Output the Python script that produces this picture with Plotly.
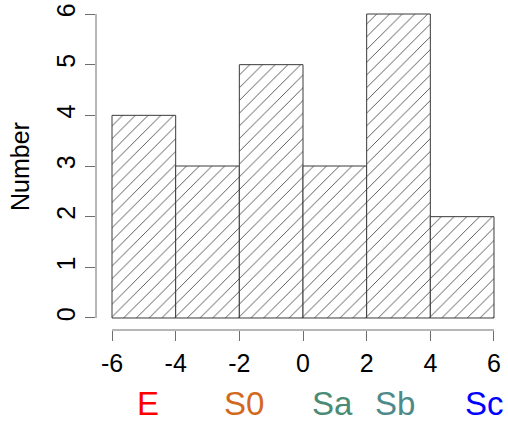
import plotly.graph_objects as go

# ---- data ----
bin_edges = [-6, -4, -2, 0, 2, 4, 6]
counts = [4, 3, 5, 3, 6, 2]
x_ticks = [-6, -4, -2, 0, 2, 4, 6]
y_ticks = [0, 1, 2, 3, 4, 5, 6]
group_labels = ["E", "S0", "Sa", "Sb", "Sc"]
group_colors = ["#FF0000", "#D2691E", "#4A8B75", "#4F8A8B", "#0000FF"]
group_x = [-4.87, -1.85, 0.94, 2.89, 5.69]
y_title = "Number"

FONT = "Liberation Sans, Arial, Helvetica, sans-serif"

mids = [(a + b) / 2 for a, b in zip(bin_edges[:-1], bin_edges[1:])]
widths = [b - a for a, b in zip(bin_edges[:-1], bin_edges[1:])]

fig = go.Figure()
fig.add_trace(go.Bar(
    x=mids, y=counts, width=widths,
    marker=dict(
        color="white",
        line=dict(color="#3a3a3a", width=1),
        pattern=dict(shape="/", fgcolor="#1e1e1e", bgcolor="white",
                     size=9, solidity=0.08, fillmode="replace"),
    ),
    showlegend=False, hoverinfo="skip",
))

axis_col = "#6e6e6e"
# R-style axis lines spanning only the tick range
fig.add_shape(type="line", xref="x", yref="paper", x0=x_ticks[0], x1=x_ticks[-1],
              y0=0, y1=0, line=dict(color=axis_col, width=1))
fig.add_shape(type="line", xref="paper", yref="y", x0=0, x1=0,
              y0=y_ticks[0], y1=y_ticks[-1], line=dict(color=axis_col, width=1))

for lab, col, gx in zip(group_labels, group_colors, group_x):
    fig.add_annotation(x=gx, y=-0.2256, xref="x", yref="paper", text=lab,
                       showarrow=False, font=dict(family=FONT, size=33, color=col),
                       xanchor="center", yanchor="middle")

fig.add_annotation(x=-0.1845, y=0.5, xref="paper", yref="paper", text=y_title,
                   textangle=-90, showarrow=False,
                   font=dict(family=FONT, size=25, color="black"),
                   xanchor="center", yanchor="middle")

fig.update_layout(
    width=508, height=421,
    margin=dict(l=96, r=0, t=2, b=91, pad=0),
    plot_bgcolor="white", paper_bgcolor="white",
    bargap=0,
    font=dict(family=FONT, size=25, color="black"),
    xaxis=dict(range=[-6.503, 6.44], tickvals=x_ticks, ticktext=[str(v) for v in x_ticks],
               ticks="outside", ticklen=10, tickcolor=axis_col, tickwidth=1,
               ticklabelstandoff=1, ticklabeloverflow="allow", automargin=False,
               showgrid=False, zeroline=False, showline=False,
               tickfont=dict(family=FONT, size=25, color="black")),
    yaxis=dict(range=[-0.237, 6.237], tickvals=y_ticks, ticktext=[str(v) for v in y_ticks],
               ticks="outside", ticklen=10, tickcolor=axis_col, tickwidth=1,
               ticklabeloverflow="allow", automargin=False,
               tickangle=-90, showgrid=False, zeroline=False, showline=False,
               tickfont=dict(family=FONT, size=25, color="black")),
)

fig.write_html("out.html",
               config={"displayModeBar": False, "staticPlot": True},
               post_script="document.body.style.margin='0';document.body.style.overflow='hidden';")
